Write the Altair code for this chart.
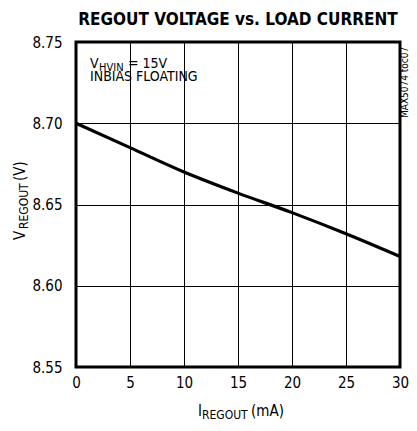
import altair as alt
import pandas as pd

# data
current_ma = [0, 5, 10, 15, 20, 25, 30]
voltage_v = [8.700, 8.685, 8.670, 8.657, 8.645, 8.632, 8.618]
x_ticks = [0, 5, 10, 15, 20, 25, 30]
y_ticks = [8.55, 8.60, 8.65, 8.70, 8.75]

FONT = "DejaVu Sans Condensed"

df = pd.DataFrame({"I": current_ma, "V": voltage_v})

W, H = 324, 325

x_enc = alt.X("I:Q", scale=alt.Scale(domain=[0, 30], nice=False),
              axis=alt.Axis(values=x_ticks, title=None, ticks=False, domain=False,
                            grid=True, gridColor="#000000", gridWidth=1,
                            labelFont=FONT, labelFontSize=15, labelColor="#000",
                            labelPadding=8, labelFlush=False))
y_enc = alt.Y("V:Q", scale=alt.Scale(domain=[8.55, 8.75], nice=False, zero=False),
              axis=alt.Axis(values=y_ticks, format=".2f", title=None, ticks=False,
                            domain=False, grid=True, gridColor="#000000", gridWidth=1,
                            labelFont=FONT, labelFontSize=15, labelColor="#000",
                            labelPadding=14, labelFlush=False))

line = alt.Chart(df).mark_line(color="#000", strokeWidth=3.2,
                               interpolate="monotone").encode(x=x_enc, y=y_enc)

frame = alt.Chart(pd.DataFrame({"a": [0]})).mark_rect(
    fill=None, stroke="#000", strokeWidth=3
).encode(x=alt.value(0), x2=alt.value(W), y=alt.value(0), y2=alt.value(H))

# text annotations (pixel positions relative to plot area)
ann = pd.DataFrame([
    {"t": "REGOUT VOLTAGE vs. LOAD CURRENT", "x": 162, "y": -17, "s": 17, "a": 0, "al": "center", "w": "bold"},
    {"t": "V", "x": 14, "y": 26, "s": 14, "a": 0, "al": "left", "w": "normal"},
    {"t": "HVIN", "x": 23, "y": 29, "s": 11, "a": 0, "al": "left", "w": "normal"},
    {"t": "= 15V", "x": 52, "y": 26, "s": 14, "a": 0, "al": "left", "w": "normal"},
    {"t": "INBIAS FLOATING", "x": 14, "y": 39, "s": 14, "a": 0, "al": "left", "w": "normal"},
    {"t": "I", "x": 122, "y": 374, "s": 15, "a": 0, "al": "left", "w": "normal"},
    {"t": "REGOUT", "x": 126, "y": 377, "s": 12, "a": 0, "al": "left", "w": "normal"},
    {"t": "(mA)", "x": 175, "y": 374, "s": 15, "a": 0, "al": "left", "w": "normal"},
    {"t": "V", "x": -51, "y": 198, "s": 15, "a": 270, "al": "left", "w": "normal"},
    {"t": "REGOUT", "x": -48, "y": 187, "s": 12, "a": 270, "al": "left", "w": "normal"},
    {"t": "(V)", "x": -51, "y": 139, "s": 15, "a": 270, "al": "left", "w": "normal"},
    {"t": "MAX5074 toc07", "x": 332, "y": 76, "s": 10, "a": 270, "al": "left", "w": "normal"},
])

texts = []
for _, r in ann.iterrows():
    texts.append(
        alt.Chart(pd.DataFrame({"t": [r["t"]]})).mark_text(
            align=r["al"], baseline="alphabetic", font=FONT, fontSize=int(r["s"]),
            angle=int(r["a"]), color="#000", fontWeight=r["w"]
        ).encode(x=alt.value(float(r["x"])), y=alt.value(float(r["y"])), text="t:N")
    )

chart = alt.layer(line, frame, *texts).properties(
    width=W, height=H,
    autosize=alt.AutoSizeParams(type="none"),
    padding={"left": 68, "top": 34, "right": 9, "bottom": 56},
).configure_view(stroke=None).configure(background="white")

chart.save("out.html", embed_options={"renderer": "svg", "actions": False})
